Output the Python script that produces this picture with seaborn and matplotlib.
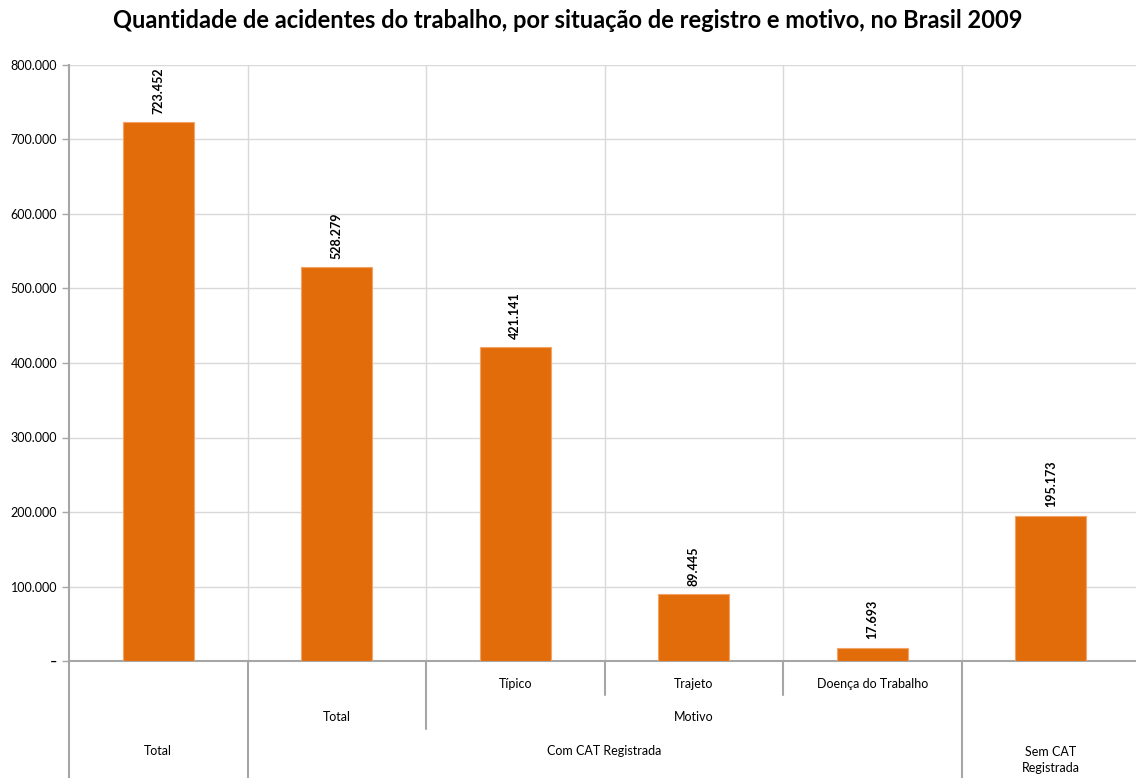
import matplotlib
matplotlib.use("Agg")
import matplotlib.pyplot as plt
import seaborn as sns
import pandas as pd

# chart data
bar_keys = ["Total", "Com CAT Total", "Típico", "Trajeto", "Doença do Trabalho", "Sem CAT Registrada"]
values = [723452, 528279, 421141, 89445, 17693, 195173]
y_ticks = [0, 100000, 200000, 300000, 400000, 500000, 600000, 700000, 800000]
y_tick_labels = ["–", "100.000", "200.000", "300.000", "400.000", "500.000", "600.000", "700.000", "800.000"]

# hierarchical axis labels (level 1 = closest to the axis)
level1 = ["", "", "Típico", "Trajeto", "Doença do Trabalho", ""]
level2_groups = [("Total", 1, 1), ("Motivo", 2, 4)]
level3_groups = [("Total", 0, 0), ("Com CAT Registrada", 1, 4), ("Sem CAT\nRegistrada", 5, 5)]

BAR_COLOR = "#E36C0A"
GRID = "#D9D9D9"
AXIS = "#A6A6A6"

sns.set_style("white")
plt.rcParams["font.family"] = ["Lato", "DejaVu Sans"]
plt.rcParams["text.color"] = "black"

df = pd.DataFrame({"key": bar_keys, "value": values})

fig = plt.figure(figsize=(11.36, 7.78), dpi=100)
ax = fig.add_axes([69 / 1136, 117 / 778, (1136 - 69) / 1136, 596 / 778])

sns.barplot(data=df, x="key", y="value", order=bar_keys, color=BAR_COLOR,
            width=0.4, saturation=1, edgecolor="#F2A366", linewidth=0.8,
            ax=ax, zorder=3)

ax.set_ylim(0, 800000)
ax.set_xlim(-0.5, -0.5 + (1136 - 69) / 178.5)
ax.set_yticks(y_ticks)
ax.set_yticklabels(y_tick_labels)
ax.tick_params(axis="y", labelsize=9, labelcolor="black", color=AXIS,
               length=5, width=1, direction="out", left=True)
zero_tick = ax.yaxis.get_major_ticks()[0]
zero_tick.label1.set_fontweight("bold")
ax.set_xticks([])
ax.set_xlabel("")
ax.set_ylabel("")

# gridlines
ax.grid(axis="y", color=GRID, linewidth=1, zorder=0)
for i in range(1, len(bar_keys) + 1):
    ax.axvline(i - 0.5, color=GRID, linewidth=1, zorder=0)

for side in ["top", "right"]:
    ax.spines[side].set_visible(False)
for side in ["left", "bottom"]:
    ax.spines[side].set_color(AXIS)
    ax.spines[side].set_linewidth(1.5)

# value labels
for i, v in enumerate(values):
    ax.annotate(f"{v:,}".replace(",", "."), (i, v), xytext=(0, 6),
                textcoords="offset points", rotation=90, ha="center", va="bottom",
                fontsize=9, fontweight="bold", color="black")

# category area below the axis
def yf(py):
    return (661 - py) / 596

tr = ax.get_xaxis_transform()
for i, lab in enumerate(level1):
    if lab:
        ax.text(i, yf(684), lab, transform=tr, ha="center", va="center", fontsize=9)
for lab, a, b in level2_groups:
    ax.text((a + b) / 2, yf(717), lab, transform=tr, ha="center", va="center", fontsize=9)
for lab, a, b in level3_groups:
    ax.text((a + b) / 2, yf(751) if "\n" not in lab else yf(760), lab, transform=tr,
            ha="center", va="center", fontsize=9, linespacing=1.3)

# separators: (x boundary, bottom pixel)
seps = [(-0.5, 778), (0.5, 778), (1.5, 729), (2.5, 695), (3.5, 695), (4.5, 778)]
for x, bot in seps:
    ax.plot([x, x], [0, yf(bot)], transform=tr, color=AXIS, linewidth=1.5, clip_on=False)

fig.suptitle("Quantidade de acidentes do trabalho, por situação de registro e motivo, no Brasil 2009",
             x=0.5, y=1 - 20 / 778, va="center", fontsize=17, fontweight="bold", color="black")

fig.savefig("out.png", dpi=100)
